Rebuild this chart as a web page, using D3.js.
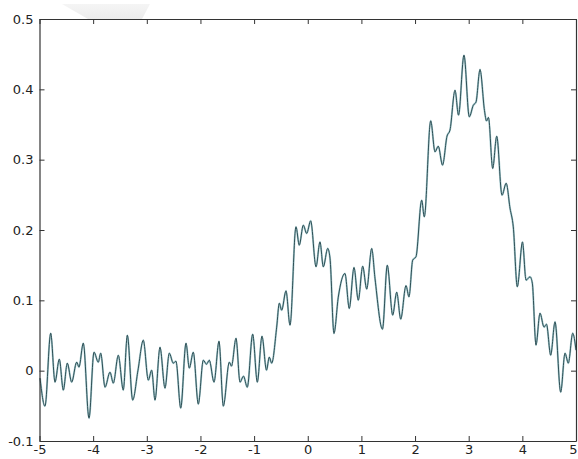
<!DOCTYPE html>
<html>
<head>
<meta charset="utf-8">
<script src="https://cdn.jsdelivr.net/npm/d3@7/dist/d3.min.js"></script>
<style>
  html, body { margin: 0; padding: 0; background: #ffffff; }
  svg { display: block; }
</style>
</head>
<body>
<svg id="chart" width="578" height="459"></svg>
<script>
// ---- data ----
const xValues = [-4.99,-4.898,-4.791,-4.711,-4.631,-4.556,-4.482,-4.4,-4.307,-4.264,-4.184,-4.077,-3.984,-3.904,-3.859,-3.779,-3.686,-3.624,-3.531,-3.438,-3.363,-3.263,-3.164,-3.065,-2.972,-2.909,-2.847,-2.754,-2.661,-2.581,-2.506,-2.456,-2.368,-2.269,-2.208,-2.133,-2.04,-1.947,-1.887,-1.835,-1.747,-1.654,-1.574,-1.462,-1.421,-1.337,-1.263,-1.198,-1.127,-1.026,-0.94,-0.853,-0.769,-0.717,-0.672,-0.579,-0.53,-0.486,-0.405,-0.331,-0.219,-0.158,-0.083,-0.02,0.055,0.154,0.228,0.29,0.372,0.415,0.489,0.569,0.694,0.774,0.862,0.942,1.024,1.099,1.192,1.253,1.393,1.483,1.583,1.658,1.733,1.831,1.887,1.956,2.018,2.124,2.172,2.292,2.372,2.433,2.512,2.596,2.651,2.745,2.81,2.912,3.011,3.086,3.136,3.211,3.294,3.332,3.369,3.447,3.522,3.621,3.699,3.77,3.831,3.906,4.003,4.068,4.143,4.186,4.254,4.329,4.404,4.45,4.528,4.609,4.715,4.795,4.857,4.939,5.0];
const yValues = [-0.0107,-0.0505,0.0533,-0.0164,0.0164,-0.0277,0.0107,-0.0164,0.0121,0.005,0.0391,-0.0675,0.0263,0.0121,0.0249,-0.0235,-0.0021,-0.0178,0.022,-0.0277,0.0505,-0.0419,0.0007,0.0434,-0.0135,0.0007,-0.0419,0.0334,-0.0249,0.0249,0.0107,0.0135,-0.0533,0.0391,0.0036,0.0263,-0.0476,0.0149,0.0092,0.0149,-0.0164,0.0419,-0.0505,0.0121,0.0064,0.0462,-0.0164,-0.0078,-0.0235,0.0519,-0.0164,0.0491,0.0007,0.0192,0.0107,0.0619,0.096,0.086,0.1135,0.0647,0.2045,0.1784,0.2069,0.1951,0.213,0.1476,0.1831,0.1476,0.1738,0.16,0.0529,0.1045,0.1382,0.0884,0.1467,0.1002,0.1486,0.1159,0.1738,0.1315,0.059,0.15,0.0789,0.1116,0.0732,0.1209,0.1049,0.1571,0.1621,0.2424,0.2187,0.3552,0.3111,0.3192,0.2922,0.3335,0.342,0.3988,0.3633,0.4486,0.3609,0.3775,0.3818,0.4283,0.37,0.355,0.36,0.2875,0.3334,0.2495,0.2666,0.2311,0.2045,0.1192,0.1831,0.1287,0.1334,0.1244,0.0363,0.0818,0.0619,0.0661,0.022,0.0694,-0.0306,0.0249,0.0107,0.0533,0.0291];
const xTicks = [-5,-4,-3,-2,-1,0,1,2,3,4,5];
const xTickLabels = ["-5","-4","-3","-2","-1","0","1","2","3","4","5"];
const yTicks = [-0.1,0,0.1,0.2,0.3,0.4,0.5];
const yTickLabels = ["-0.1","0","0.1","0.2","0.3","0.4","0.5"];

// ---- layout ----
const mLeft = 39.5, mRight = 576, mTop = 19, mBottom = 441;
const svg = d3.select("#chart");

// faint watermark shape at top
const defs = svg.append("defs");
const grad = defs.append("linearGradient").attr("id","wm").attr("x1","0").attr("y1","0").attr("x2","0").attr("y2","1");
grad.append("stop").attr("offset","0").attr("stop-color","#f5f5f5");
grad.append("stop").attr("offset","1").attr("stop-color","#ececec");
svg.append("path")
  .attr("d","M62,4 L150,4 L142,19 L88,19 Z")
  .attr("fill","url(#wm)");

const x = d3.scaleLinear().domain([-5,5]).range([mLeft,mRight]);
const y = d3.scaleLinear().domain([-0.1,0.5]).range([mBottom,mTop]);

const points = xValues.map((v,i) => [v, yValues[i]]);

const line = d3.line()
  .x(d => x(d[0]))
  .y(d => y(d[1]))
  .curve(d3.curveMonotoneX);

const plot = svg.append("g");
plot.append("path").datum(points)
  .attr("fill","none").attr("stroke","#a9cdd2").attr("stroke-width",2.0)
  .attr("stroke-linejoin","round").attr("d", line);
plot.append("path").datum(points)
  .attr("fill","none").attr("stroke","#2e4f55").attr("stroke-width",1.0)
  .attr("stroke-linejoin","round").attr("d", line);

// axes (ticks inward on all sides)
const tickLen = 5;
const axColor = "#333";
const axB = d3.axisBottom(x).tickValues(xTicks).tickSizeInner(-tickLen).tickSizeOuter(0).tickFormat((d,i)=>xTickLabels[i]).tickPadding(4);
const axT = d3.axisTop(x).tickValues(xTicks).tickSizeInner(-tickLen).tickSizeOuter(0).tickFormat("");
const axL = d3.axisLeft(y).tickValues(yTicks).tickSizeInner(-tickLen).tickSizeOuter(0).tickFormat((d,i)=>yTickLabels[i]).tickPadding(6);
const axR = d3.axisRight(y).tickValues(yTicks).tickSizeInner(-tickLen).tickSizeOuter(0).tickFormat("");

function style(g){
  g.selectAll(".domain").attr("stroke",axColor).attr("stroke-width",1.2);
  g.selectAll(".tick line").attr("stroke",axColor).attr("stroke-width",1);
  g.selectAll(".tick text").attr("fill","#222").style("font-family","'DejaVu Sans', sans-serif").style("font-size","13px");
}
svg.append("g").attr("transform",`translate(0,${mBottom})`).call(axB).call(style);
svg.append("g").attr("transform",`translate(0,${mTop})`).call(axT).call(style);
svg.append("g").attr("transform",`translate(${mLeft},0)`).call(axL).call(style);
svg.append("g").attr("transform",`translate(${mRight},0)`).call(axR).call(style);
// keep the outer x labels inside the picture
svg.selectAll(".tick text").filter(function(){ return this.textContent === "5"; }).attr("text-anchor","end").attr("x", 1);
</script>
</body>
</html>
